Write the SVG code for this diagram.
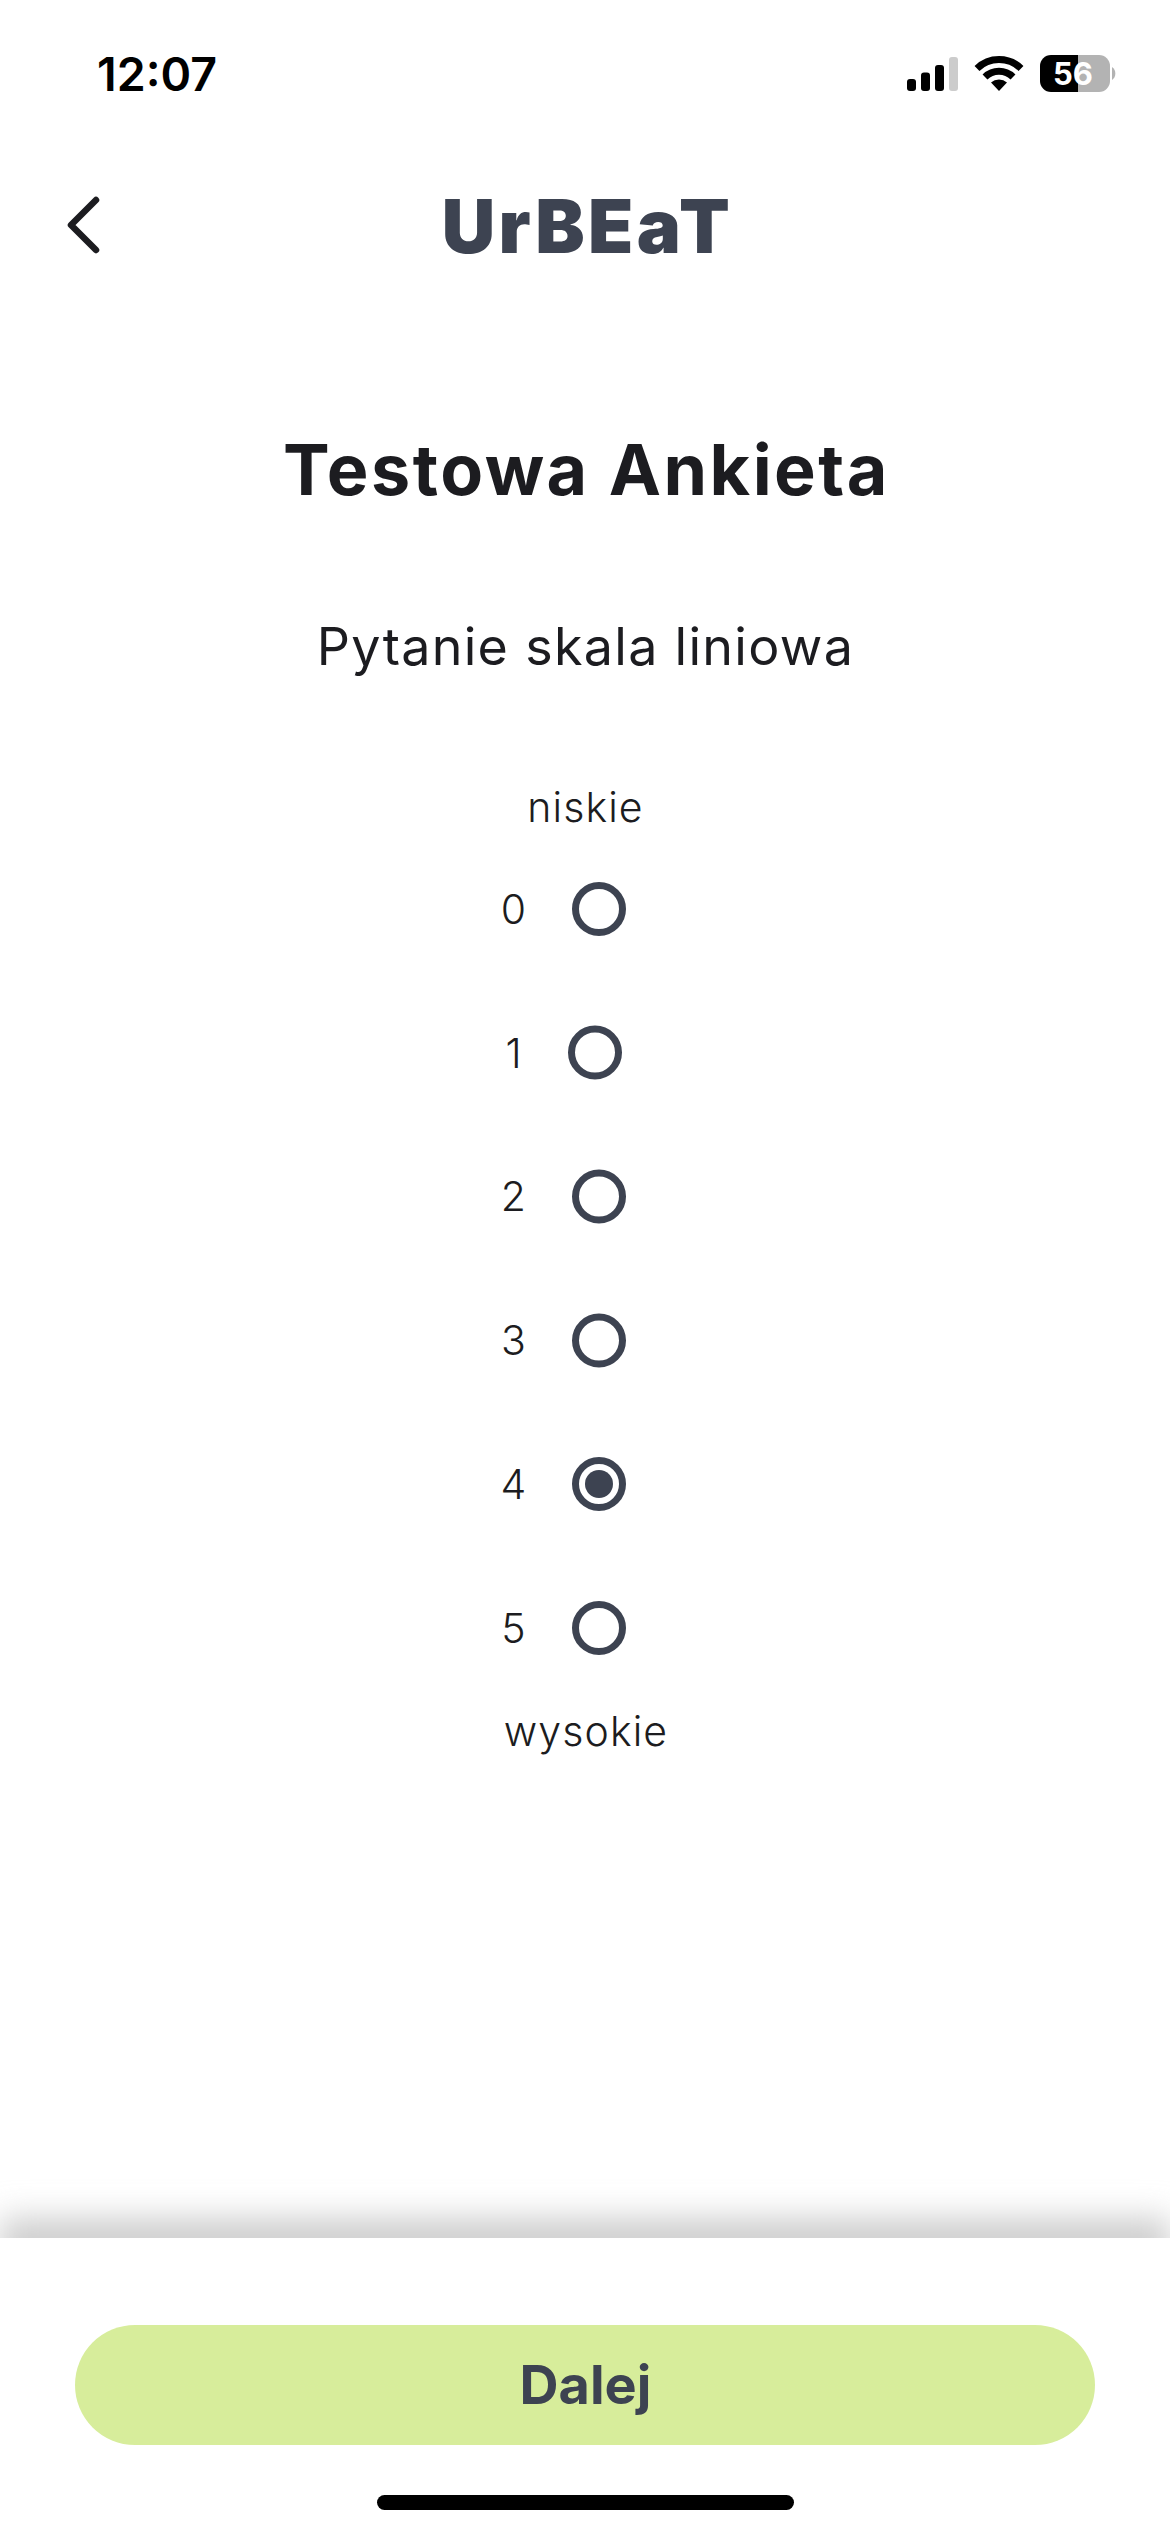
<svg xmlns="http://www.w3.org/2000/svg" width="1170" height="2532" viewBox="0 0 1170 2532">
<style>
text{font-family:Inter,"Noto Sans","Liberation Sans",sans-serif;fill:#1c1c20}
.m{text-anchor:middle}
.b{font-size:41px;font-weight:300;letter-spacing:1.100px}
.r{fill:none;stroke:#3d4351;stroke-width:7}
.d{fill:#3d4351}
</style>
<defs>
<filter id="blur" x="-10%" y="-200%" width="120%" height="500%"><feGaussianBlur stdDeviation="16"/></filter>
<clipPath id="bl"><rect x="1040" y="55" width="38" height="37"/></clipPath>
<clipPath id="br"><rect x="1078" y="55" width="32" height="37"/></clipPath>
</defs>
<rect width="1170" height="2532" fill="#fff"/>
<g id="status-bar">
<text x="97" y="90.500" style="font-size:46.500px;font-weight:600;fill:#000">12:07</text>
<g fill="#000"><rect x="907" y="79" width="9" height="12" rx="3"/><rect x="921" y="72.500" width="9" height="18.500" rx="3"/><rect x="935" y="65" width="9" height="26" rx="3"/></g>
<rect x="949" y="57" width="9" height="34" rx="3" fill="#ccc"/>
<g fill="none" stroke="#000" stroke-width="7"><path d="M977 68.500A31.500 31.500 0 0 1 1021 68.500"/><path d="M985 77A20 20 0 0 1 1013 77"/></g>
<path d="M999 91L991 82.500A12 12 0 0 1 1007 82.500Z" fill="#000"/>
<rect x="1040" y="55" width="70" height="37" rx="11" fill="#000" clip-path="url(#bl)"/>
<rect x="1040" y="55" width="70" height="37" rx="11" fill="#b3b3b3" clip-path="url(#br)"/>
<path d="M1112 67A8 8 0 0 1 1112 80Z" fill="#b3b3b3"/>
<text x="1073" y="85" class="m" style="font-size:31px;font-weight:700;fill:#fff">56</text>
</g>
<g id="header">
<path d="M96 200L71 225L96 250" fill="none" stroke="#1c1c20" stroke-width="6.500" stroke-linecap="round" stroke-linejoin="round"/>
<text x="587.500" y="252.500" class="m" style="font-size:74px;font-weight:900;letter-spacing:3.400px;fill:#3d4351">UrBEaT</text>
</g>
<g id="title"><text x="586.500" y="494.500" class="m" style="font-size:70px;font-weight:700;letter-spacing:2.500px">Testowa Ankieta</text></g>
<g id="question"><text x="585.500" y="665" class="m" style="font-size:52px;font-weight:400;letter-spacing:1.300px">Pytanie skala liniowa</text></g>
<g id="label-low"><text x="585.500" y="822" class="m b">niskie</text></g>
<g id="option-0"><text x="514" y="924" class="m b">0</text><circle class="r" cx="599" cy="909" r="23.500"/></g>
<g id="option-1"><text x="514" y="1068" class="m b">1</text><circle class="r" cx="595" cy="1052.500" r="23.500"/></g>
<g id="option-2"><text x="514" y="1211" class="m b">2</text><circle class="r" cx="599" cy="1196.500" r="23.500"/></g>
<g id="option-3"><text x="514" y="1355" class="m b">3</text><circle class="r" cx="599" cy="1340.500" r="23.500"/></g>
<g id="option-4"><text x="514" y="1499" class="m b">4</text><circle class="r" cx="599" cy="1484" r="23.500"/><circle class="d" cx="599" cy="1484" r="14"/></g>
<g id="option-5"><text x="514" y="1643" class="m b">5</text><circle class="r" cx="599" cy="1628" r="23.500"/></g>
<g id="label-high"><text x="586" y="1746" class="m b">wysokie</text></g>
<g id="footer">
<rect x="0" y="2218" width="1170" height="50" fill="#cdcdcd" filter="url(#blur)"/>
<rect x="0" y="2238" width="1170" height="294" fill="#fff"/>
<rect x="75" y="2325" width="1020" height="120" rx="60" fill="#d7ed9b"/>
<text x="585.500" y="2404" class="m" style="font-size:54px;font-weight:700;fill:#3d4351">Dalej</text>
<rect x="377" y="2495" width="417" height="15" rx="7.500" fill="#000"/>
</g>
</svg>
